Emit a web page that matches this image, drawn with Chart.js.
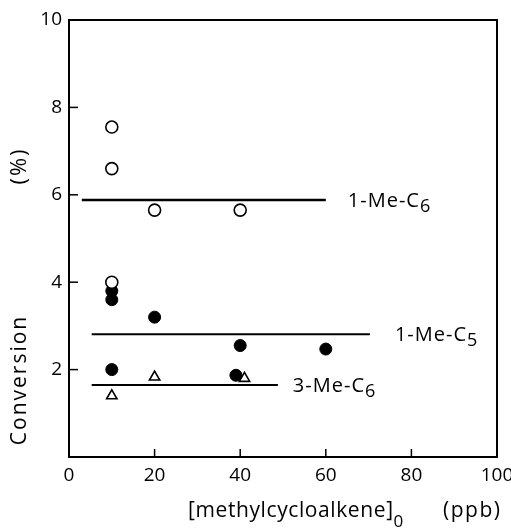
<!DOCTYPE html>
<html><head><meta charset="utf-8">
<script src="https://cdn.jsdelivr.net/npm/chart.js@4"></script>
<style>html,body{margin:0;padding:0;background:#fff}#wrap{width:511px;height:531px}</style>
</head><body><div id="wrap"><canvas id="c" width="511" height="531"></canvas></div>
<script>
// Data
const openX = [10, 10, 20, 40, 10];
const openY = [7.55, 6.6, 5.65, 5.65, 4.0];
const filledX = [10, 10, 20, 40, 60, 10, 39];
const filledY = [3.8, 3.6, 3.2, 2.55, 2.47, 2.0, 1.87];
const triX = [10, 20, 41];
const triY = [1.4, 1.83, 1.8];
const lineNames = ['1-Me-C', '1-Me-C', '3-Me-C'];
const lineSubs = ['6', '5', '6'];
const lineLevels = [5.88, 2.81, 1.65];
const lineStarts = [3, 5.3, 5.3];
const lineEnds = [60, 70.3, 48.8];
const xTicks = [0, 20, 40, 60, 80, 100];
const yTicks = [0, 2, 4, 6, 8, 10];

const FONT = '"Open Sans", "DejaVu Sans", sans-serif';
const pts = (xs, ys) => xs.map((x, i) => ({x, y: ys[i]}));

const datasets = [
  {label:'open', data: pts(openX, openY), showLine:false, pointStyle:'circle', pointRadius:6,
   pointBackgroundColor:'#fff', pointBorderColor:'#000', pointBorderWidth:1.6},
  {label:'filled', data: pts(filledX, filledY), showLine:false, pointStyle:'circle', pointRadius:6,
   pointBackgroundColor:'#000', pointBorderColor:'#000', pointBorderWidth:1},
  {label:'tri', data: pts(triX, triY), showLine:false, pointStyle:'triangle', pointRadius:6,
   pointBackgroundColor:'#fff', pointBorderColor:'#000', pointBorderWidth:1.6}
];
lineLevels.forEach((lv, i) => {
  datasets.push({label: lineNames[i] + lineSubs[i], data: [{x: lineStarts[i], y: lv}, {x: lineEnds[i], y: lv}],
    showLine: true, pointRadius: 0, borderColor: '#000', borderWidth: i === 0 ? 2.6 : 2, fill: false});
});

const decor = {
  id: 'decor',
  afterDraw(chart) {
    const ctx = chart.ctx, a = chart.chartArea, xs = chart.scales.x, ys = chart.scales.y;
    ctx.save();
    ctx.strokeStyle = '#000'; ctx.lineWidth = 2;
    ctx.strokeRect(a.left, a.top, a.right - a.left, a.bottom - a.top);
    // inward ticks
    ctx.lineWidth = 1.5;
    xs.ticks.forEach(t => { if (t.value > 0 && t.value < 100) { const px = xs.getPixelForValue(t.value);
      ctx.beginPath(); ctx.moveTo(px, a.bottom); ctx.lineTo(px, a.bottom - 8); ctx.stroke(); }});
    ys.ticks.forEach(t => { if (t.value > 0 && t.value < 10) { const py = ys.getPixelForValue(t.value);
      ctx.beginPath(); ctx.moveTo(a.left, py); ctx.lineTo(a.left + 9, py); ctx.stroke(); }});
    // line labels
    const gaps = [22, 25, 15];
    ctx.fillStyle = '#000'; ctx.textBaseline = 'middle'; ctx.textAlign = 'left';
    ctx.letterSpacing = '1px';
    lineLevels.forEach((lv, i) => {
      const px = xs.getPixelForValue(lineEnds[i]) + gaps[i];
      const py = ys.getPixelForValue(lv) + 1;
      ctx.font = '20px ' + FONT;
      ctx.fillText(lineNames[i], px, py);
      const w = ctx.measureText(lineNames[i]).width;
      ctx.font = '18px ' + FONT;
      ctx.fillText(lineSubs[i], px + w, py + 6);
    });
    // axis titles
    ctx.letterSpacing = '0.6px';
    ctx.font = '21px ' + FONT;
    ctx.textAlign = 'left'; ctx.textBaseline = 'alphabetic';
    const t1 = '[methylcycloalkene]';
    ctx.fillText(t1, 188, 517);
    const w1 = ctx.measureText(t1).width;
    ctx.font = '17px ' + FONT;
    ctx.fillText('0', 188 + w1, 527);
    ctx.letterSpacing = '1.5px';
    ctx.font = '21px ' + FONT;
    ctx.fillText('(ppb)', 443, 517);
    ctx.letterSpacing = '2px';
    ctx.save();
    ctx.translate(20, 380); ctx.rotate(-Math.PI / 2);
    ctx.textAlign = 'center'; ctx.textBaseline = 'middle';
    ctx.fillText('Conversion', 0, 0);
    ctx.restore();
    ctx.save();
    ctx.translate(20, 166); ctx.rotate(-Math.PI / 2);
    ctx.textAlign = 'center'; ctx.textBaseline = 'middle';
    ctx.font = '22px ' + FONT;
    ctx.fillText('(%)', 0, 0);
    ctx.restore();
    ctx.restore();
  }
};

new Chart(document.getElementById('c'), {
  type: 'scatter',
  data: { datasets },
  options: {
    responsive: false, animation: false,
    layout: { padding: { top: 20, right: 14, left: 0, bottom: 0 } },
    plugins: { legend: { display: false }, tooltip: { enabled: false } },
    scales: {
      x: { type: 'linear', min: 0, max: 100,
        afterBuildTicks: s => { s.ticks = xTicks.map(v => ({value: v})); },
        afterFit: s => { s.height = 74; s.paddingLeft = 0; s.paddingRight = 0; },
        grid: { display: false, drawTicks: false }, border: { display: false },
        ticks: { color: '#000', font: { size: 19, family: FONT }, padding: 7, maxRotation: 0 } },
      y: { type: 'linear', min: 0, max: 10,
        afterBuildTicks: s => { s.ticks = yTicks.map(v => ({value: v})); },
        afterFit: s => { s.width = 69; s.paddingTop = 0; s.paddingBottom = 0; },
        grid: { display: false, drawTicks: false }, border: { display: false },
        ticks: { color: '#000', font: { size: 19, family: FONT }, padding: 7,
          callback: v => v === 0 ? '' : String(v) } }
    }
  },
  plugins: [decor]
});
</script></body></html>
